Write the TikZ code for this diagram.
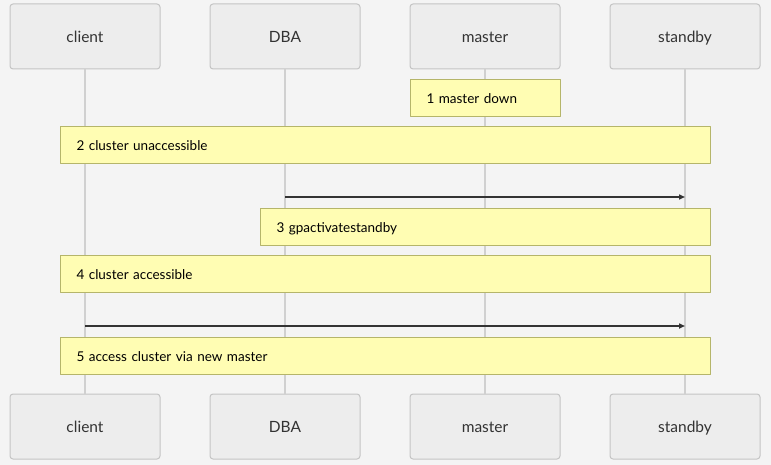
\documentclass[tikz,border=0pt]{standalone}
\usepackage{fontspec}
\setmainfont{Lato}
\usetikzlibrary{arrows.meta}
\definecolor{bgcol}{HTML}{F4F4F4}
\definecolor{actorfill}{HTML}{EDEDED}
\definecolor{actorline}{HTML}{C4C4C4}
\definecolor{lifecol}{HTML}{D0D0D0}
\definecolor{notefill}{HTML}{FFFDB3}
\definecolor{noteline}{HTML}{B5B56A}
\definecolor{txtcol}{HTML}{333333}
\begin{document}
\begin{tikzpicture}[x=1pt, y=-1pt, line join=round, >={Triangle[length=6pt,width=5pt]},
  actor/.style={draw=actorline, fill=actorfill, line width=1pt, rounded corners=3pt, minimum width=150pt, minimum height=65pt, text height=12pt, text depth=0pt, font=\fontsize{15.5}{18}\selectfont, text=txtcol},
  life/.style={draw=lifecol, line width=1.5pt},
  note/.style={draw=noteline, fill=notefill, line width=1pt, anchor=north west, minimum height=37pt, inner xsep=16pt, text height=11.5pt, text depth=0pt, align=left, font=\fontsize{13.5}{16}\selectfont, text=black},
  msg/.style={->, draw=txtcol, line width=1.5pt}]
  \useasboundingbox[fill=bgcol] (0,0) rectangle (771,465);
  % actors and lifelines
  \foreach \n/\x in {client/85,DBA/285,master/485,standby/685}{
    \node[actor] (\n top) at (\x,36.5) {\n};
    \node[actor] (\n bot) at (\x,426.5) {\n};
    \draw[life] (\n top) -- (\n bot);
  }
  % notes
  \node[note, text width=118pt] (down) at (410,79) {1 master down};
  \node[note, text width=618pt] (unacc) at (60,126) {2 cluster unaccessible};
  \coordinate (dba1) at (285,197);
  \coordinate (sb1) at (685,197);
  \draw[msg] (dba1) -- (sb1);
  \node[note, text width=418pt] (activ) at (260,208) {3 gpactivatestandby};
  \node[note, text width=618pt] (acc) at (60,255) {4 cluster accessible};
  \coordinate (cl2) at (85,326);
  \coordinate (sb2) at (685,326);
  \draw[msg] (cl2) -- (sb2);
  \node[note, text width=618pt] (via) at (60,337) {5 access cluster via new master};
\end{tikzpicture}
\end{document}
